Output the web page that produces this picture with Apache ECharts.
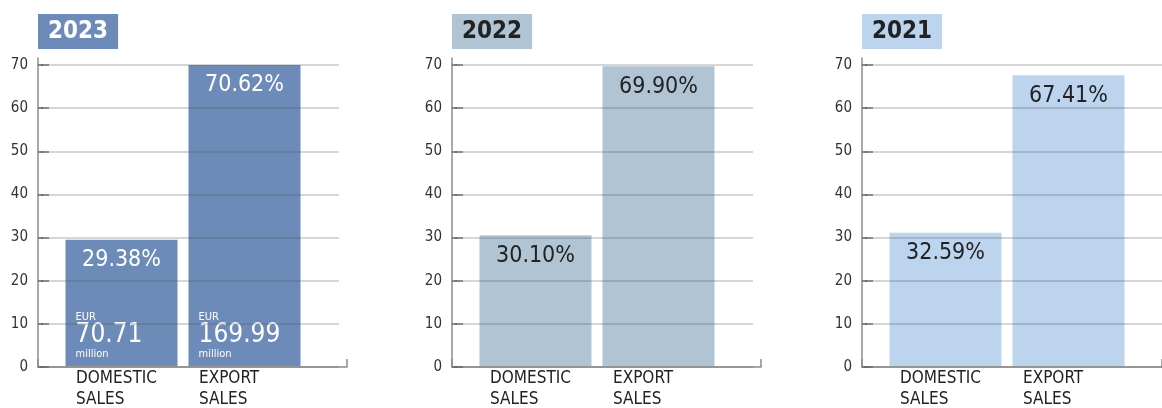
<!DOCTYPE html>
<html>
<head>
<meta charset="utf-8">
<script src="https://cdn.jsdelivr.net/npm/echarts@6/dist/echarts.min.js"></script>
<style>
  html, body { margin: 0; padding: 0; background: #fff; }
  #chart { width: 1162px; height: 408px; }
</style>
</head>
<body>
<div id="chart"></div>
<script>
const years = ['2023', '2022', '2021']
const categories = ['DOMESTIC\nSALES', 'EXPORT\nSALES']

// shares printed on the bars
const shares2023 = [29.38, 70.62]
const shares2022 = [30.10, 69.90]
const shares2021 = [32.59, 67.41]

// bar heights as drawn
const heights2023 = [29.38, 70.62]
const heights2022 = [30.4, 69.7]
const heights2021 = [31.0, 67.6]

const eur2023 = ['70.71', '169.99']

const yMin = 0
const yMax = 70
const yStep = 10

const FONT = '"DejaVu Sans Condensed", "Liberation Sans Narrow", sans-serif'

const panels = [
    {year: years[0], shares: shares2023, heights: heights2023, eur: eur2023,
     left: 38, color: '#6d8bb9', text: '#ffffff', title: '#ffffff'},
    {year: years[1], shares: shares2022, heights: heights2022, eur: null,
     left: 452, color: '#b0c4d4', text: '#222222', title: '#222222'},
    {year: years[2], shares: shares2021, heights: heights2021, eur: null,
     left: 862, color: '#bdd4ee', text: '#222222', title: '#222222'}
]

const chart = echarts.init(document.getElementById('chart'))

const option = {
    animation: false,
    title: [], grid: [], xAxis: [], yAxis: [], series: []
}

const axisGrey = '#8c8c8c'

panels.forEach((p, i) => {
    const gF = i * 3, gL = i * 3 + 1, gB = i * 3 + 2

    option.title.push({
        text: p.year,
        left: p.left,
        top: 14,
        backgroundColor: p.color,
        padding: [4, 10],
        textStyle: {fontSize: 24, fontWeight: 'bold', color: p.title, fontFamily: FONT, lineHeight: 27}
    })

    // frame: axis lines
    option.grid.push({left: p.left, top: 58, width: 309, height: 309})
    // gridlines + y ticks / labels
    option.grid.push({left: p.left + 11, top: 65, width: 290, height: 302})
    // bars
    option.grid.push({left: p.left + 22, top: 65, width: 246, height: 303})

    option.xAxis.push({
        gridIndex: gF, type: 'value', min: 0, max: 1, interval: 1,
        axisLine: {show: true, lineStyle: {color: axisGrey, width: 1.5}},
        axisTick: {show: true, inside: true, length: 8, lineStyle: {color: axisGrey, width: 1.5}},
        axisLabel: {show: false}, splitLine: {show: false}
    })
    option.yAxis.push({
        gridIndex: gF, type: 'value', min: 0, max: 1,
        axisLine: {show: true, onZero: false, lineStyle: {color: axisGrey, width: 1.5}},
        axisTick: {show: false}, axisLabel: {show: false}, splitLine: {show: false}
    })

    option.xAxis.push({gridIndex: gL, type: 'value', min: 0, max: 1, show: false})
    option.yAxis.push({
        gridIndex: gL, type: 'value', min: yMin, max: yMax, interval: yStep,
        position: 'left', offset: 11, z: 3,
        axisLine: {show: false},
        axisTick: {show: true, length: 8, lineStyle: {color: '#666', width: 1.5}},
        axisLabel: {margin: 10, fontSize: 15, color: '#333', fontFamily: FONT},
        splitLine: {show: true, lineStyle: {color: 'rgba(90,90,90,0.33)', width: 1.5}}
    })
    option.yAxis.push({
        gridIndex: gL, type: 'value', min: yMin, max: yMax, interval: yStep,
        position: 'left', offset: 11,
        axisLine: {show: false},
        axisTick: {show: true, inside: true, length: 5, lineStyle: {color: '#666', width: 1.5}},
        axisLabel: {show: false}, splitLine: {show: false}
    })

    const xB = option.xAxis.length
    option.xAxis.push({
        gridIndex: gB, type: 'category', data: categories,
        axisLine: {show: false}, axisTick: {show: false},
        axisLabel: {
            margin: 2,
            formatter: v => v.split('\n').map(s => '{a|' + s + '}').join('\n'),
            rich: {a: {width: 91, align: 'left', fontSize: 17, lineHeight: 21, color: '#222', fontFamily: FONT}}
        }
    })
    const yB = option.yAxis.length
    option.yAxis.push({gridIndex: gB, type: 'value', min: yMin, max: yMax, show: false})

    option.series.push({
        type: 'bar',
        xAxisIndex: xB, yAxisIndex: yB,
        data: p.heights,
        barWidth: 112, barGap: '-100%',
        itemStyle: {color: p.color},
        label: {
            show: true, position: 'insideTop', distance: 9,
            formatter: d => p.shares[d.dataIndex].toFixed(2) + '%',
            fontSize: 23, color: p.text, fontFamily: FONT
        }
    })

    if (p.eur) {
        option.series.push({
            type: 'bar',
            xAxisIndex: xB, yAxisIndex: yB,
            data: p.heights,
            barWidth: 112, barGap: '-100%',
            silent: true,
            itemStyle: {color: 'transparent'},
            label: {
                show: true, position: 'insideBottomLeft', distance: 0, offset: [10, -6],
                formatter: d => '{s|EUR}\n{b|' + p.eur[d.dataIndex] + '}\n{s|million}',
                rich: {
                    s: {fontSize: 11, lineHeight: 12, color: p.text, fontFamily: FONT},
                    b: {fontSize: 26, lineHeight: 25, color: p.text, fontFamily: FONT}
                }
            }
        })
    }
})

chart.setOption(option)
</script>
</body>
</html>
